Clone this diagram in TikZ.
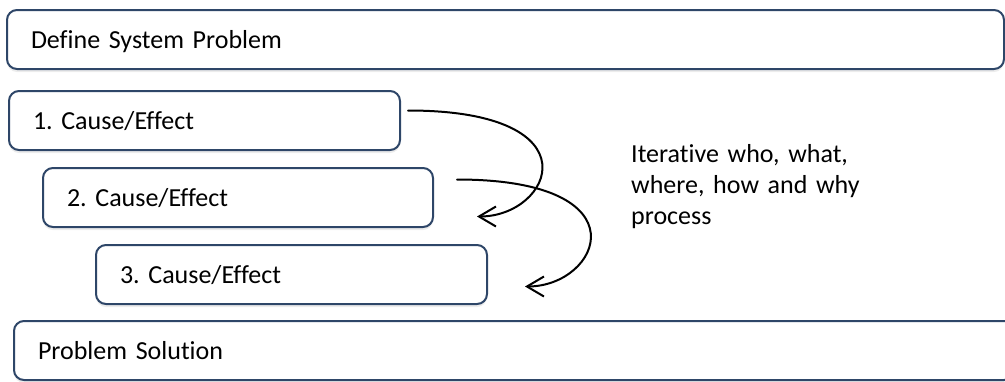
\documentclass[tikz,border=0pt]{standalone}
\usepackage{fontspec}
\setmainfont{Carlito}[Ligatures=NoCommon]
\usetikzlibrary{positioning, arrows.meta, shadows}
\definecolor{boxline}{RGB}{46,70,104}
\frenchspacing
\tikzset{
x=1pt, y=-1pt, % one unit per pixel, y grows downward
box/.style={draw=boxline, fill=white, line width=2pt, rounded corners=10pt,
  minimum height=59pt, text width=#1, text height=18pt, text depth=0pt,
  inner xsep=24pt, inner ysep=0pt, outer sep=0pt, align=left,
  drop shadow={shadow xshift=0pt, shadow yshift=-3pt, opacity=0.15}}, % the framed steps
loopy/.style={-{Straight Barb[length=17pt, width=20pt]}, line width=2pt, line cap=round}, % curved arrows
}
\begin{document}
\begin{tikzpicture}[font=\fontsize{26}{31}\selectfont]
                \clip (0,0) rectangle (1005,381);
                \node[box=949pt, anchor=north west] (sys) at (7,10) {Define System Problem};
                \node[box=343pt, below=22pt of sys.south west, anchor=north west, xshift=2pt] (c1) {1. Cause/Effect};
                \node[box=342pt, below=18pt of c1.south west, anchor=north west, xshift=34pt] (c2) {2. Cause/Effect};
                \node[box=343pt, below=18pt of c2.south west, anchor=north west, xshift=53pt] (c3) {3. Cause/Effect};
                \node[box=952pt, below=17pt of c3.south west, anchor=north west, xshift=-82pt] (sol) {Problem Solution};
                \node[anchor=base west, text width=300pt, inner sep=0pt, align=left] (note) at (631,162)
                    {Iterative who, what,\\ where, how and why\\ process};
                \draw[loopy] ([xshift=8pt, yshift=10pt]c1.east)
                    to[out=0, in=0, out distance=190pt, in distance=75pt] ([xshift=44pt, yshift=-19pt]c2.east);
                \draw[loopy] ([xshift=24pt, yshift=18pt]c2.east)
                    to[out=0, in=0, out distance=190pt, in distance=75pt] ([xshift=38pt, yshift=-12pt]c3.east);
                \end{tikzpicture}
\end{document}
